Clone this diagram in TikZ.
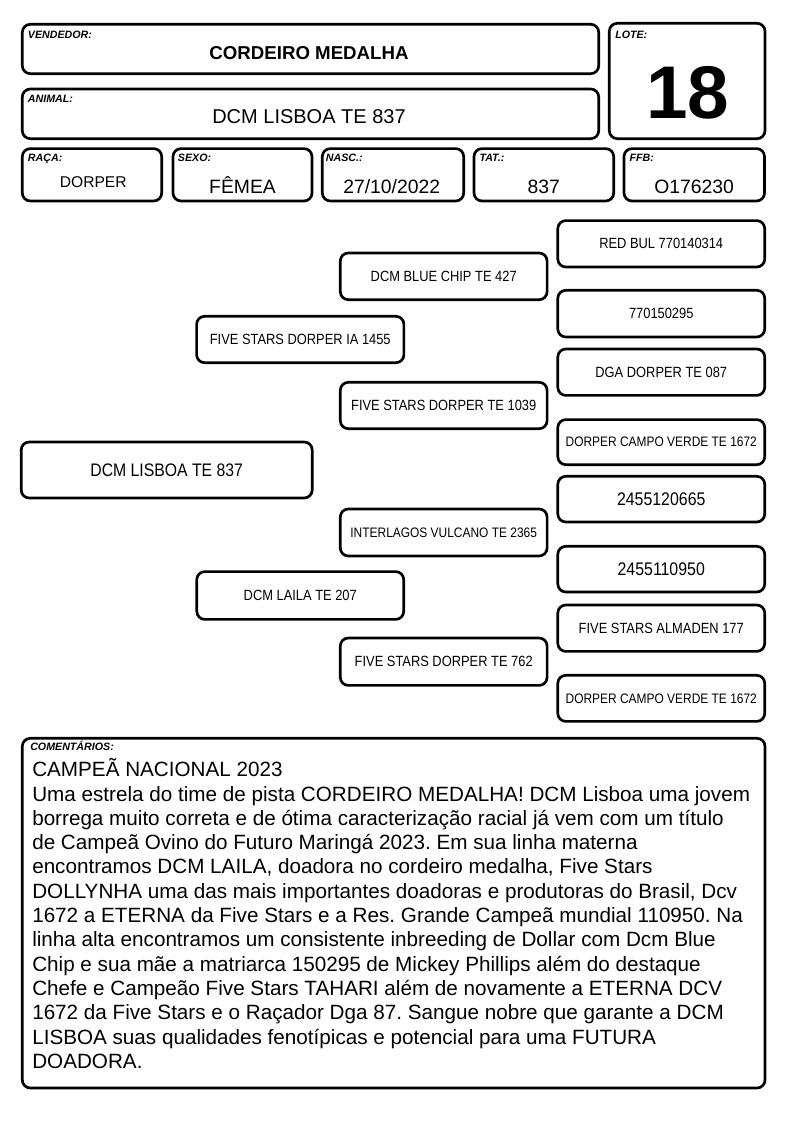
\documentclass[tikz,border=0pt]{standalone}
\usepackage{fontspec}
\setmainfont{Liberation Sans}
\newfontfamily\pedfont[FakeStretch=0.87]{Liberation Sans}
\frenchspacing
\newcommand\mybox[7][]{%
  \node[box,#1,minimum width={(#5-#3)*0.75pt},minimum height={(#6-#4)*0.75pt}]
    (#2) at ({(#3+#5)/2},{(#4+#6)/2}) {#7};}
\tikzset{
  box/.style={draw, line width=2pt, rounded corners=6pt, inner sep=0pt, align=center},
  lab/.style={anchor=base west, inner sep=0pt, font=\fontsize{8}{9}\selectfont\bfseries\itshape},
  val/.style={anchor=base, inner sep=0pt, font=\fontsize{14.5}{17}\selectfont},
  ped/.style={font=\pedfont\fontsize{11.1}{13}\selectfont},
  pedsmall/.style={font=\pedfont\fontsize{10.3}{12}\selectfont},
  pednum/.style={font=\pedfont\fontsize{13.7}{16}\selectfont},
  pedbig/.style={font=\pedfont\fontsize{13.6}{16}\selectfont},
  com/.style={anchor=base west, inner sep=0pt, font=\frenchspacing\fontsize{15.5}{18}\selectfont},
}
\begin{document}
\begin{tikzpicture}[x=0.75pt,y=-0.75pt]
\fill[white] (0,0) rectangle (794,1123);
\useasboundingbox (0,0) rectangle (794,1123);
% header boxes
\mybox{vend}{22.3}{24.3}{598.7}{73.7}{}
\mybox{anim}{22.3}{89}{598.7}{138.7}{}
\mybox{lote}{609.3}{23.3}{765}{138.7}{}
\mybox{raca}{22.3}{148.6}{161.7}{201}{}
\mybox{sexo}{173}{148.6}{312}{201}{}
\mybox{nasc}{322.3}{148.6}{463.7}{201}{}
\mybox{tat}{474}{148.6}{613.7}{201}{}
\mybox{ffb}{624}{148.6}{764.5}{201}{}
% labels
\node[lab] (lvend) at (27.7,38.5) {VENDEDOR:};
\node[lab] (lanim) at (27.7,102.5) {ANIMAL:};
\node[lab] (llote) at (615,39) {LOTE:};
\node[lab] (lraca) at (27.7,162) {RAÇA:};
\node[lab] (lsexo) at (177.7,162) {SEXO:};
\node[lab] (lnasc) at (325.7,162) {NASC.:};
\node[lab] (ltat) at (479.3,162) {TAT.:};
\node[lab] (lffb) at (629.3,162) {FFB:};
% values
\node[val, font=\fontsize{14}{17}\selectfont\bfseries] (vvend) at (309,60) {CORDEIRO MEDALHA};
\node[val, font=\fontsize{15}{18}\selectfont] (vanim) at (309,123.3) {DCM LISBOA TE 837};
\node[val, font=\fontsize{56}{60}\selectfont\bfseries] (vlote) at (688,118.3) {18};
\node[val, font=\fontsize{11.7}{14}\selectfont] (vraca) at (93.3,187.3) {DORPER};
\node[val] (vsexo) at (242.5,193.3) {FÊMEA};
\node[val] (vnasc) at (391.7,193.3) {27/10/2022};
\node[val] (vtat) at (543.8,193.3) {837};
\node[val] (vffb) at (694.2,193.3) {O176230};
% pedigree
\mybox[pedbig]{p0}{21.2}{442}{312.2}{498}{DCM LISBOA TE 837}
\mybox[ped]{ps}{196.6}{316.3}{403.9}{362.7}{FIVE STARS DORPER IA 1455}
\mybox[ped]{pd}{196.8}{571.6}{403.7}{619.4}{DCM LAILA TE 207}
\mybox[ped]{pss}{340.3}{253}{547.1}{299.7}{DCM BLUE CHIP TE 427}
\mybox[ped]{psd}{340.3}{382.3}{547.1}{428.7}{FIVE STARS DORPER TE 1039}
\mybox[pedsmall]{pds}{340.3}{509}{547.1}{556}{INTERLAGOS VULCANO TE 2365}
\mybox[ped]{pdd}{340.3}{638}{547.1}{685.4}{FIVE STARS DORPER TE 762}
\mybox[ped]{psss}{557.8}{220.6}{764.7}{267}{RED BUL 770140314}
\mybox[ped]{pssd}{557.8}{290.3}{764.7}{337}{770150295}
\mybox[ped]{psds}{557.8}{349}{764.7}{395.4}{DGA DORPER TE 087}
\mybox[pedsmall]{psdd}{557.8}{419.6}{764.7}{464.7}{DORPER CAMPO VERDE TE 1672}
\mybox[pednum]{pdss}{557.8}{476.3}{764.7}{522}{2455120665}
\mybox[pednum]{pdsd}{557.8}{546.3}{764.7}{592}{2455110950}
\mybox[ped]{pdds}{557.8}{605}{764.7}{651.4}{FIVE STARS ALMADEN 177}
\mybox[pedsmall]{pddd}{557.8}{675.3}{764.7}{721.4}{DORPER CAMPO VERDE TE 1672}
% comments
\mybox{comm}{22.3}{738.3}{765}{1088}{}
\node[lab] (lcomm) at (30,750.5) {COMENTÁRIOS:};
\node[com] (c1) at (32,776.7) {CAMPEÃ NACIONAL 2023};
\node[com] (c2) at (32,801.0) {Uma estrela do time de pista CORDEIRO MEDALHA! DCM Lisboa uma jovem};
\node[com] (c3) at (32,825.3) {borrega muito correta e de ótima caracterização racial já vem com um título};
\node[com] (c4) at (32,849.6) {de Campeã Ovino do Futuro Maringá 2023. Em sua linha materna};
\node[com] (c5) at (32,873.9) {encontramos DCM LAILA, doadora no cordeiro medalha, Five Stars};
\node[com] (c6) at (32,898.2) {DOLLYNHA uma das mais importantes doadoras e produtoras do Brasil, Dcv};
\node[com] (c7) at (32,922.5) {1672 a ETERNA da Five Stars e a Res. Grande Campeã mundial 110950. Na};
\node[com] (c8) at (32,946.8) {linha alta encontramos um consistente inbreeding de Dollar com Dcm Blue};
\node[com] (c9) at (32,971.1) {Chip e sua mãe a matriarca 150295 de Mickey Phillips além do destaque};
\node[com] (c10) at (32,995.4) {Chefe e Campeão Five Stars TAHARI além de novamente a ETERNA DCV};
\node[com] (c11) at (32,1019.7) {1672 da Five Stars e o Raçador Dga 87. Sangue nobre que garante a DCM};
\node[com] (c12) at (32,1044.0) {LISBOA suas qualidades fenotípicas e potencial para uma FUTURA};
\node[com] (c13) at (32,1068.3) {DOADORA.};
\end{tikzpicture}
\end{document}
